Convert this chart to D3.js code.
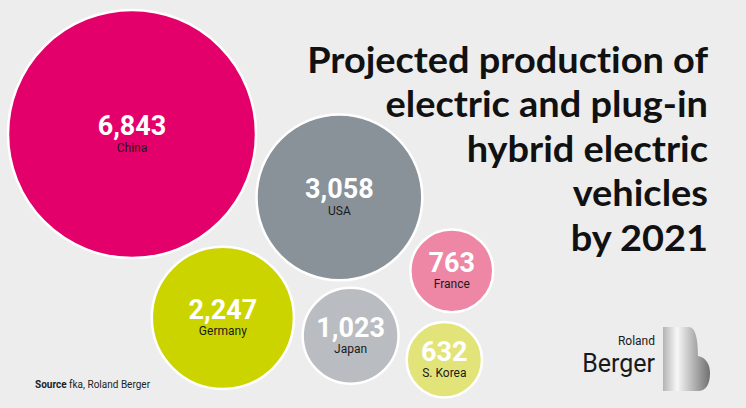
<!DOCTYPE html>
<html>
<head>
<meta charset="utf-8">
<script src="https://cdn.jsdelivr.net/npm/d3@7"></script>
<style>
  body { margin: 0; background: #ededed; }
  svg { display: block; }
  text { font-variant-ligatures: none; }
</style>
</head>
<body>
<svg id="chart" width="746" height="408"></svg>
<script>
// data
const countries = ['China', 'USA', 'Germany', 'Japan', 'France', 'S. Korea'];
const production = [6843, 3058, 2247, 1023, 763, 632];
const titleLines = ['Projected production of', 'electric and plug-in', 'hybrid electric', 'vehicles', 'by 2021'];

// styling / layout (each bubble sits next to a parent bubble at an angle)
const fills = ['#e4006b', '#8a9299', '#ccd400', '#b9bcc0', '#ee86a6', '#e2e47a'];
const parentOf = [null, 0, 0, 2, 1, 4];
const angleDeg = [0, 17, 63.7, 8, 33.2, 94.8];
const gap = 10;

const svg = d3.select('#chart');
svg.selectAll('*').remove();

const r = d3.scaleSqrt()
  .domain([0, d3.max(production)])
  .range([0, 124]);

const fmt = d3.format(',');

// place bubbles
const nodes = countries.map((c, i) => ({ name: c, value: production[i], r: r(production[i]), fill: fills[i] }));
nodes[0].x = 132;
nodes[0].y = 134;
nodes.forEach((n, i) => {
  if (parentOf[i] === null) return;
  const p = nodes[parentOf[i]];
  const a = angleDeg[i] * Math.PI / 180;
  const d = p.r + n.r + gap;
  n.x = p.x + d * Math.cos(a);
  n.y = p.y + d * Math.sin(a);
});

const g = svg.append('g');

const bubble = g.selectAll('.bubble')
  .data(nodes)
  .enter().append('g')
  .attr('class', 'bubble')
  .attr('transform', d => `translate(${d.x},${d.y})`);

bubble.append('circle')
  .attr('r', d => d.r)
  .attr('fill', d => d.fill)
  .attr('stroke', '#fff')
  .attr('stroke-width', 2.5);

bubble.append('text')
  .attr('text-anchor', 'middle')
  .attr('y', 1)
  .attr('fill', '#fff')
  .style('font-family', 'Roboto, sans-serif')
  .style('font-weight', 700)
  .style('font-size', '27px')
  .text(d => fmt(d.value));

bubble.append('text')
  .attr('text-anchor', 'middle')
  .attr('y', 17.5)
  .attr('fill', '#1a1a1a')
  .style('font-family', 'Roboto, sans-serif')
  .style('font-size', '12px')
  .text(d => d.name);

// title
const title = svg.append('g')
  .attr('transform', 'translate(708,0)');

title.selectAll('text')
  .data(titleLines)
  .enter().append('text')
  .attr('text-anchor', 'end')
  .attr('y', (d, i) => 73 + i * 44.5)
  .attr('fill', '#111')
  .style('font-family', 'Lato, sans-serif')
  .style('font-weight', 700)
  .style('font-size', '36px')
  .text(d => d);

// squeeze title so first line fits the same width as the original
const firstW = title.select('text').node().getComputedTextLength();
const sx = 401 / firstW;
title.attr('transform', `translate(708,0) scale(${sx},1)`);

// source
svg.append('text')
  .attr('x', 35)
  .attr('y', 388)
  .attr('fill', '#222')
  .style('font-family', 'Roboto, sans-serif')
  .style('font-size', '10px')
  .call(t => {
    t.append('tspan').style('font-weight', 700).text('Source');
    t.append('tspan').text(' fka, Roland Berger');
  });

// logo
const logo = svg.append('g');
logo.append('text')
  .attr('x', 655).attr('y', 345)
  .attr('text-anchor', 'end')
  .attr('fill', '#1a1a1a')
  .style('font-family', 'Roboto, sans-serif')
  .style('font-size', '12px')
  .text('Roland');
logo.append('text')
  .attr('x', 655).attr('y', 371.5)
  .attr('text-anchor', 'end')
  .attr('fill', '#1a1a1a')
  .style('font-family', 'Roboto, sans-serif')
  .style('font-weight', 400)
  .style('font-size', '25px')
  .text('Berger');

const defs = svg.append('defs');
const grad = defs.append('linearGradient')
  .attr('id', 'silver')
  .attr('x1', '0%').attr('x2', '100%').attr('y1', '0%').attr('y2', '0%');
[['0%', '#b4b4b4'], ['30%', '#f7f7f7'], ['60%', '#bdbdbd'], ['100%', '#707070']]
  .forEach(s => grad.append('stop').attr('offset', s[0]).attr('stop-color', s[1]));

logo.append('path')
  .attr('transform', 'translate(663,327)')
  .attr('d', 'M0,0 L26,0 C32,0 35,11 35,29 C43,30 47,38 47,46 C47,57 43,64 35,64 L0,64 Z')
  .attr('fill', 'url(#silver)');
</script>
</body>
</html>
